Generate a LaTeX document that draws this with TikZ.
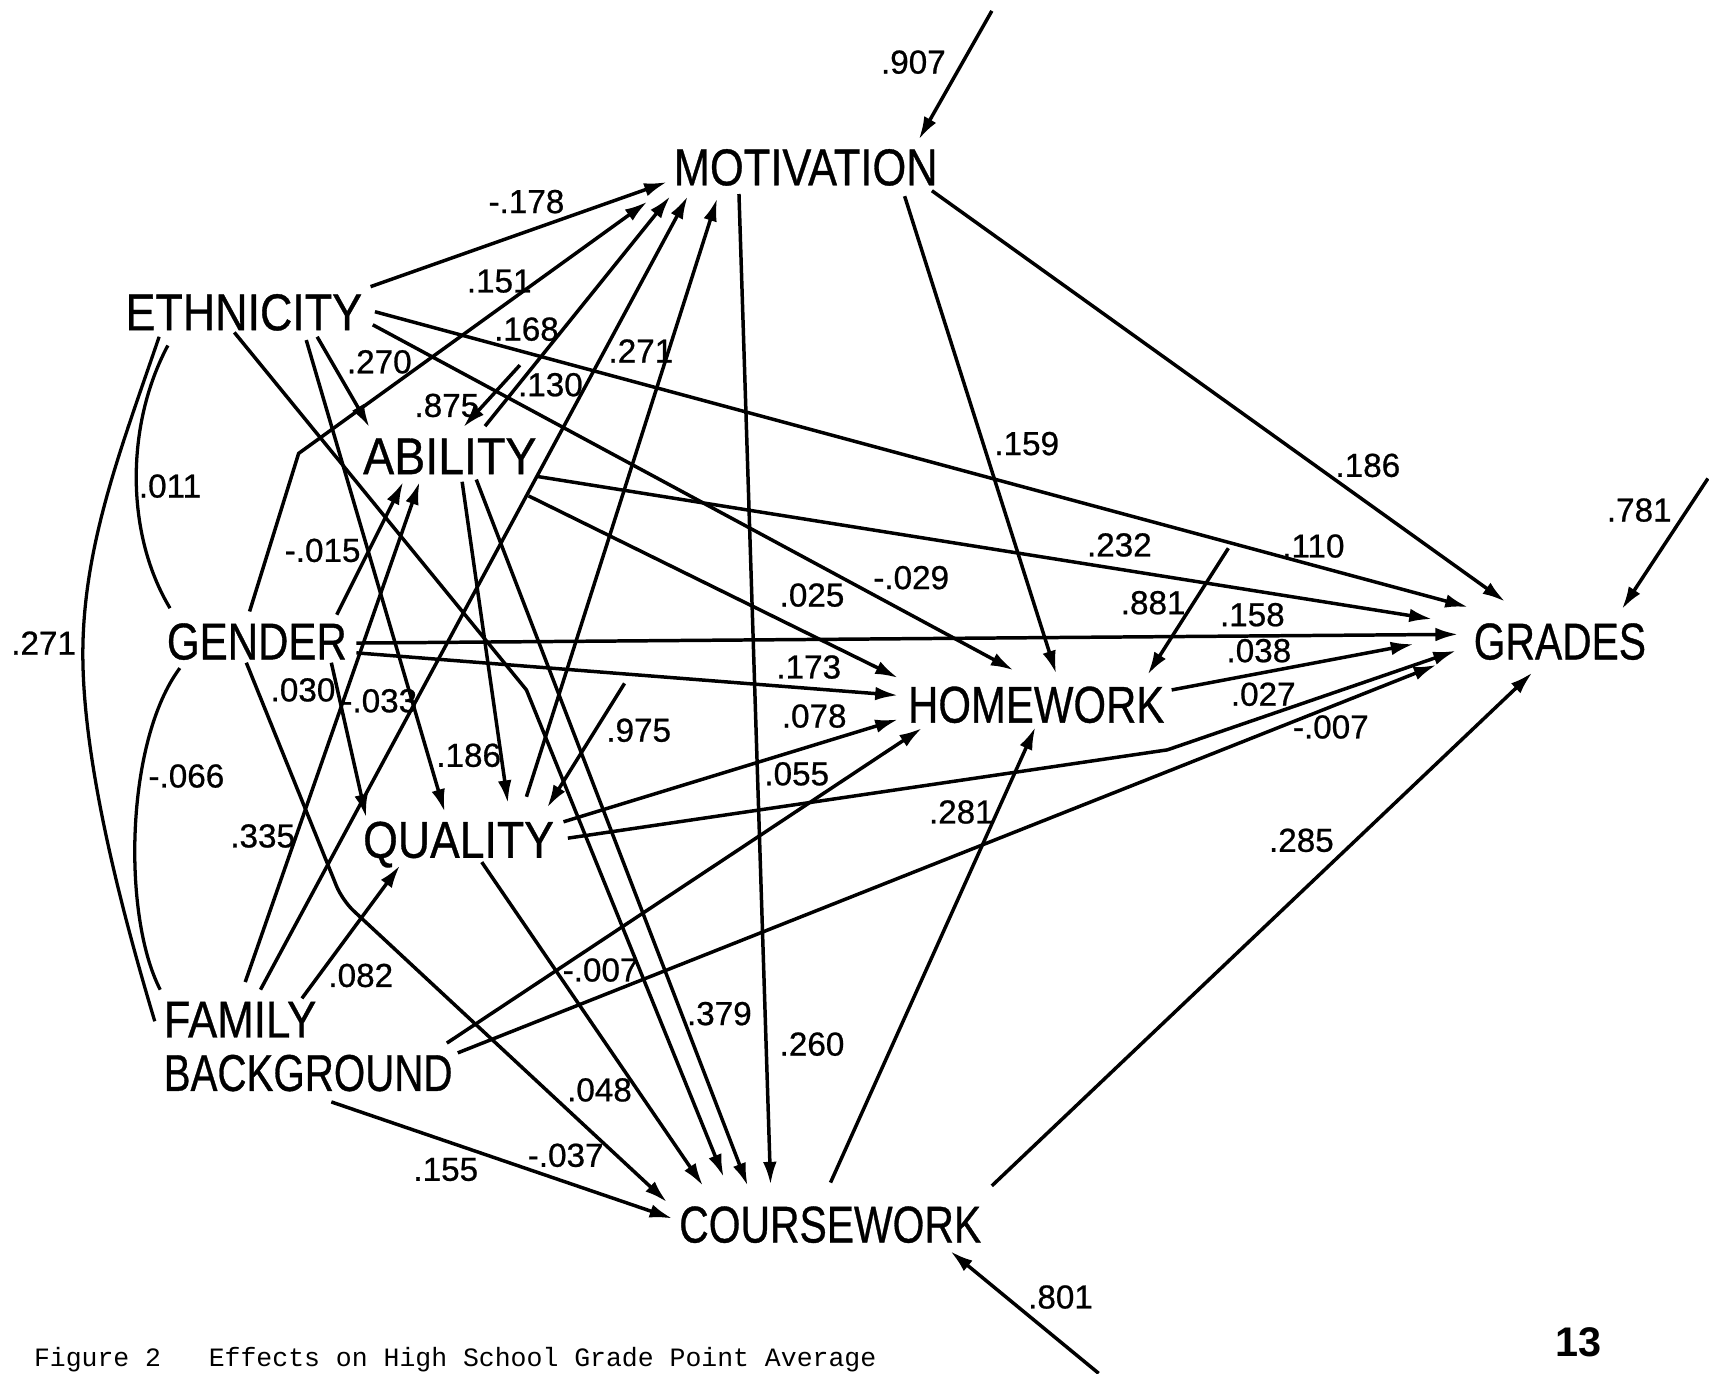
\documentclass[tikz,border=0pt]{standalone}
\usepackage{fontspec}
\setmainfont{Liberation Sans}
\newfontfamily\lblfont[FakeBold=0.7]{Liberation Sans}
\newfontfamily\capfont{Liberation Mono}
\usetikzlibrary{arrows.meta,calc}
\newcommand{\vw}[2]{\resizebox{#1pt}{\height}{#2}}
\begin{document}
\begin{tikzpicture}[x=1pt,y=-1pt,
  varnode/.style={inner sep=0pt, anchor=base west, font=\lblfont\fontsize{47.5}{49}\selectfont},
  coef/.style={inner sep=0pt, font=\lblfont\fontsize{30.5}{32}\selectfont},
  pth/.style={line width=3.2pt, -{Latex[length=21pt,width=12.5pt]}},
  corr/.style={line width=3pt}]
\fill[white] (0,0) rectangle (1568,1260);
\useasboundingbox (0,0) rectangle (1568,1260);

% variables
\node[varnode] (mot)  at (618,170)  {\vw{242}{MOTIVATION}};
\node[varnode] (eth)  at (115,303)  {\vw{217}{ETHNICITY}};
\node[varnode] (abil) at (333,435)  {\vw{159}{ABILITY}};
\node[varnode] (gend) at (153,605)  {\vw{165}{GENDER}};
\node[varnode] (hw)   at (833,663)  {\vw{235}{HOMEWORK}};
\node[varnode] (qual) at (333,787)  {\vw{175}{QUALITY}};
\node[varnode, anchor=north west, align=left] (fam) at (150,919) {\vw{140}{FAMILY}\\\vw{265}{BACKGROUND}};
\node[varnode] (cw)   at (623,1140) {\vw{277}{COURSEWORK}};
\node[varnode] (gr)   at (1352,605) {\vw{158}{GRADES}};

% free ends of residual paths
\coordinate (zmot) at (910,10);
\coordinate (zgr)  at (1567,439);
\coordinate (zcw)  at (1008,1260);
\coordinate (zab)  at (477,335);
\coordinate (zq)   at (573,627);
\coordinate (zhw)  at (1127,503);

% correlations
\draw[corr] ($(eth.base west)+(31,6)$) .. controls (112,409) and (76,500) .. (76,600)
            .. controls (76,700) and (112,837) .. ($(fam.north west)+(-8,18)$);
\draw[corr] ($(eth.base west)+(39,14)$) .. controls (115,390) and (115,490) .. ($(gend.base west)+(3,-47)$);
\draw[corr] ($(gend.base west)+(12,8)$) .. controls (115,680) and (112,840) .. ($(fam.north west)+(-3,-11)$);

% paths into MOTIVATION
\draw[pth] ($(eth.base west)+(225,-40)$) -- ($(mot.base west)+(-6,-3)$);
\draw[pth] ($(gend.base west)+(76,-44)$) -- ($(gend.base west)+(121,-189)$) -- ($(mot.base west)+(-24,15)$);
\draw[pth] ($(abil.base west)+(112,-44)$) -- ($(mot.base west)+(-3,10)$);
\draw[pth] ($(fam.north west)+(89,-11)$) -- ($(mot.base west)+(13,10)$);
\draw[pth] ($(qual.base west)+(150,-56)$) -- ($(mot.base west)+(40,12)$);
% from MOTIVATION
\draw[pth] ($(mot.base west)+(237,5)$) -- ($(gr.base west)+(29,-53)$);
\draw[pth] ($(mot.base west)+(212,10)$) -- ($(hw.base west)+(136,-45)$);
\draw[pth] ($(mot.base west)+(60,8)$) -- ($(cw.base west)+(84,-53)$);
% from ETHNICITY
\draw[pth] ($(eth.base west)+(229,-17)$) -- ($(gr.base west)+(-5,-48)$);
\draw[pth] ($(eth.base west)+(227,-5)$) -- ($(hw.base west)+(97,-48)$);
\draw[pth] ($(eth.base west)+(176,6)$) -- ($(abil.base west)+(6,-43)$);
\draw[pth] ($(eth.base west)+(166,9)$) -- ($(qual.base west)+(75,-42)$);
\draw[pth] ($(eth.base west)+(100,2)$) -- ($(eth.base west)+(368,330)$) -- ($(cw.base west)+(41,-60)$);
% from ABILITY
\draw[pth] ($(abil.base west)+(159,2)$) -- ($(gr.base west)+(-38,-37)$);
\draw[pth] ($(abil.base west)+(152,20)$) -- ($(hw.base west)+(-9,-41)$);
\draw[pth] ($(abil.base west)+(91,7)$) -- ($(qual.base west)+(133,-50)$);
\draw[pth] ($(abil.base west)+(104,5)$) -- ($(cw.base west)+(63,-52)$);
% from GENDER
\draw[pth] ($(gend.base west)+(174,-15)$) -- ($(gr.base west)+(-14,-23)$);
\draw[pth] ($(gend.base west)+(174,-6)$) -- ($(hw.base west)+(-9,-25)$);
\draw[pth] ($(gend.base west)+(156,-41)$) -- ($(abil.base west)+(37,7)$);
\draw[pth] ($(gend.base west)+(151,3)$) -- ($(qual.base west)+(3,-37)$);
\draw[pth, rounded corners=14pt] ($(gend.base west)+(73,3)$) -- ($(gend.base west)+(161,221)$) -- ($(cw.base west)+(-11,-37)$);
% from QUALITY
\draw[pth] ($(qual.base west)+(184,-33)$) -- ($(hw.base west)+(-9,-3)$);
\draw[pth] ($(qual.base west)+(188,-18)$) -- ($(qual.base west)+(738,-99)$) -- ($(gr.base west)+(-16,-8)$);
\draw[pth] ($(qual.base west)+(109,4)$) -- ($(cw.base west)+(22,-52)$);
% from FAMILY BACKGROUND
\draw[pth] ($(fam.north west)+(75,-18)$) -- ($(abil.base west)+(52,7)$);
\draw[pth] ($(fam.north west)+(127,-3)$) -- ($(qual.base west)+(34,7)$);
\draw[pth] ($(fam.north west)+(260,38)$) -- ($(hw.base west)+(13,5)$);
\draw[pth] ($(fam.north west)+(270,47)$) -- ($(gr.base west)+(-34,5)$);
\draw[pth] ($(fam.north west)+(154,92)$) -- ($(cw.base west)+(-6,-22)$);
% from COURSEWORK and HOMEWORK
\draw[pth] ($(cw.base west)+(139,-55)$) -- ($(hw.base west)+(117,4)$);
\draw[pth] ($(cw.base west)+(287,-52)$) -- ($(gr.base west)+(54,12)$);
\draw[pth] ($(hw.base west)+(242,-30)$) -- ($(gr.base west)+(-55,-14)$);
% residuals
\draw[pth] (zmot) -- ($(mot.base west)+(225,-42)$);
\draw[pth] (zgr) -- ($(gr.base west)+(136,-46)$);
\draw[pth] (zcw) -- ($(cw.base west)+(249,8)$);
\draw[pth] (zab) -- ($(abil.base west)+(92,-43)$);
\draw[pth] (zq) -- ($(qual.base west)+(169,-46)$);
\draw[pth] (zhw) -- ($(hw.base west)+(220,-44)$);

% coefficients
\node[coef] (k1) at (838,57) {.907};
\node[coef] (k2) at (483,185) {-.178};
\node[coef] (k3) at (458,258) {.151};
\node[coef] (k4) at (483,302) {.168};
\node[coef] (k5) at (588,322) {.271};
\node[coef] (k6) at (348,332) {.270};
\node[coef] (k7) at (505,353) {.130};
\node[coef] (k8) at (410,372) {.875};
\node[coef] (k9) at (942,407) {.159};
\node[coef] (k10) at (1255,427) {.186};
\node[coef] (k11) at (156,446) {.011};
\node[coef] (k12) at (296,505) {-.015};
\node[coef] (k13) at (1027,500) {.232};
\node[coef] (k14) at (1205,501) {.110};
\node[coef] (k15) at (836,530) {-.029};
\node[coef] (k16) at (745,546) {.025};
\node[coef] (k17) at (1058,553) {.881};
\node[coef] (k18) at (1149,564) {.158};
\node[coef] (k19) at (1504,468) {.781};
\node[coef] (k20) at (40,590) {.271};
\node[coef] (k21) at (1155,597) {.038};
\node[coef] (k22) at (742,612) {.173};
\node[coef] (k23) at (278,633) {.030};
\node[coef] (k24) at (348,643) {-.033};
\node[coef] (k25) at (1159,637) {.027};
\node[coef] (k26) at (747,657) {.078};
\node[coef] (k27) at (586,670) {.975};
\node[coef] (k28) at (1221,667) {-.007};
\node[coef] (k29) at (171,712) {-.066};
\node[coef] (k30) at (430,693) {.186};
\node[coef] (k31) at (731,710) {.055};
\node[coef] (k32) at (882,745) {.281};
\node[coef] (k33) at (241,767) {.335};
\node[coef] (k34) at (1194,771) {.285};
\node[coef] (k35) at (331,895) {.082};
\node[coef] (k36) at (551,890) {-.007};
\node[coef] (k37) at (660,930) {.379};
\node[coef] (k38) at (745,958) {.260};
\node[coef] (k39) at (550,1000) {.048};
\node[coef] (k40) at (519,1060) {-.037};
\node[coef] (k41) at (409,1073) {.155};
\node[coef] (k42) at (973,1190) {.801};

% caption and page number
\node[inner sep=0pt, anchor=base west, font=\capfont\fontsize{24.3}{26}\selectfont] (cap) at (31,1254)
  {Figure~2~~~Effects on High School Grade Point Average};
\node[inner sep=0pt, anchor=base west, font=\bfseries\fontsize{38}{40}\selectfont] (pg) at (1427,1245) {13};
\end{tikzpicture}
\end{document}
